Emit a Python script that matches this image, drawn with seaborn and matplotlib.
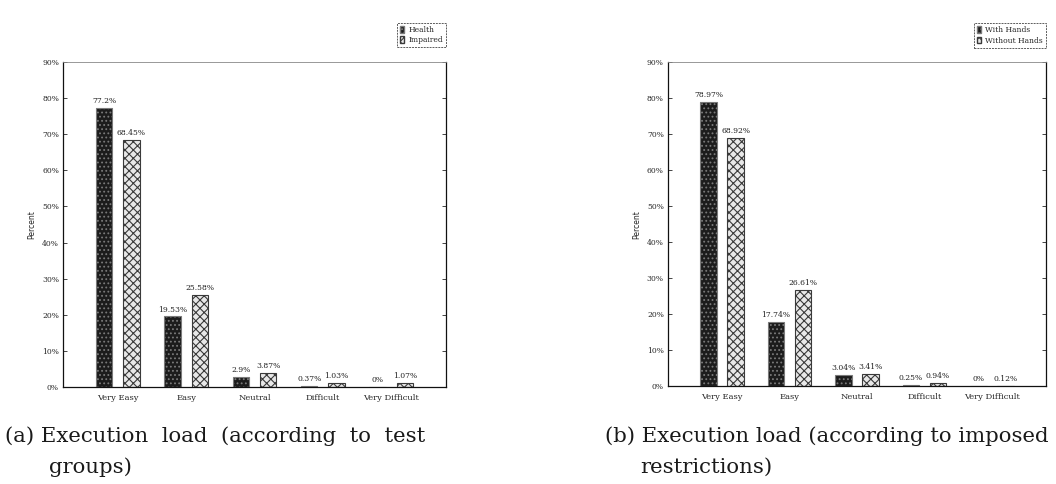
import matplotlib
matplotlib.use("Agg")
import matplotlib.pyplot as plt
from matplotlib.patches import Patch
import seaborn as sns
import pandas as pd

categories = ["Very Easy", "Easy", "Neutral", "Difficult", "Very Difficult"]

# (a) by test group
health = [77.2, 19.53, 2.9, 0.37, 0.0]
impaired = [68.45, 25.58, 3.87, 1.03, 1.07]
health_labels = ["77.2%", "19.53%", "2.9%", "0.37%", "0%"]
impaired_labels = ["68.45%", "25.58%", "3.87%", "1.03%", "1.07%"]

# (b) by imposed restriction
with_hands = [78.97, 17.74, 3.04, 0.25, 0.0]
without_hands = [68.92, 26.61, 3.41, 0.94, 0.12]
with_labels = ["78.97%", "17.74%", "3.04%", "0.25%", "0%"]
without_labels = ["68.92%", "26.61%", "3.41%", "0.94%", "0.12%"]

yticks = [0, 10, 20, 30, 40, 50, 60, 70, 80, 90]
ytick_labels = [f"{t}%" for t in yticks]

sns.set_theme(style="white")
plt.rcParams["font.family"] = ["DejaVu Serif"]
plt.rcParams["hatch.linewidth"] = 0.8

fig = plt.figure(figsize=(10.56, 4.84), dpi=100)

DARK_FACE, DARK_EDGE = "#1c1c1c", "#7a7a7a"
LIGHT_FACE, LIGHT_EDGE = "#e8e8e8", "#3a3a3a"


def panel(rect, a_vals, b_vals, a_lab, b_lab, names, caption_lines,
          cap_x, cap_x2):
    ax = fig.add_axes(rect)
    df = pd.DataFrame({
        "Category": categories * 2,
        "Value": list(a_vals) + list(b_vals),
        "Group": [names[0]] * len(categories) + [names[1]] * len(categories),
    })
    sns.barplot(data=df, x="Category", y="Value", hue="Group",
                order=categories, hue_order=names, width=0.8, gap=0.4,
                palette=[DARK_FACE, LIGHT_FACE], ax=ax, legend=False)
    n = len(categories)
    for i, p in enumerate(ax.patches[:2 * n]):
        if i < n:
            p.set_facecolor(DARK_FACE)
            p.set_edgecolor(DARK_EDGE)
            p.set_hatch("....")
        else:
            p.set_facecolor(LIGHT_FACE)
            p.set_edgecolor(LIGHT_EDGE)
            p.set_hatch("xxxx")
        p.set_linewidth(0.8)
    labels = list(a_lab) + list(b_lab)
    for p, lab in zip(ax.patches[:2 * n], labels):
        ax.text(p.get_x() + p.get_width() / 2, p.get_height() + 0.8, lab,
                ha="center", va="bottom", fontsize=5.5, color="#222222")
    ax.set_xlim(-0.8, 4.8)
    ax.set_ylim(0, 90)
    ax.set_yticks(yticks)
    ax.set_yticklabels(ytick_labels, fontsize=5.5)
    ax.tick_params(axis="x", labelsize=6, length=0, pad=5)
    ax.tick_params(axis="y", direction="in", length=3, right=True, left=True,
                   width=0.6, pad=3)
    ax.set_xlabel("")
    ax.set_ylabel("Percent", fontsize=5.5, family="DejaVu Sans", labelpad=4)
    for s in ax.spines.values():
        s.set_visible(True)
        s.set_color("#111111")
        s.set_linewidth(0.9)
    ax.spines["top"].set_color("#888888")
    ax.spines["top"].set_linewidth(0.6)

    handles = [
        Patch(facecolor=DARK_FACE, edgecolor=DARK_EDGE, hatch="...."),
        Patch(facecolor=LIGHT_FACE, edgecolor=LIGHT_EDGE, hatch="xxxx"),
    ]
    leg = ax.legend(handles, names, loc="lower right",
                    bbox_to_anchor=(1.0, 1.045), fontsize=5.5,
                    frameon=True, fancybox=False, handlelength=0.6,
                    handleheight=1.0, handletextpad=0.5, borderpad=0.4,
                    labelspacing=0.3, borderaxespad=0)
    leg.get_frame().set_edgecolor("#333333")
    leg.get_frame().set_linestyle((0, (2, 1)))
    leg.get_frame().set_linewidth(0.7)

    fig.text(cap_x, 0.098, caption_lines[0], fontsize=15.3, ha="left",
             va="center", color="#1a1a1a")
    fig.text(cap_x2, 0.035, caption_lines[1], fontsize=15.3, ha="left",
             va="center", color="#1a1a1a")
    return ax


panel([0.0597, 0.2004, 0.3627, 0.6715], health, impaired,
      health_labels, impaired_labels, ["Health", "Impaired"],
      ["(a) Execution  load  (according  to  test", "groups)"],
      0.005, 0.046)
panel([0.6326, 0.2025, 0.358, 0.669], with_hands, without_hands,
      with_labels, without_labels, ["With Hands", "Without Hands"],
      ["(b) Execution load (according to imposed", "restrictions)"],
      0.573, 0.606)

fig.savefig("out.png", dpi=100, facecolor="white")
